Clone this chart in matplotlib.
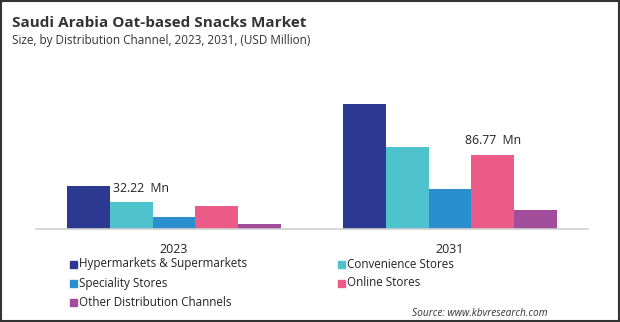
import matplotlib.pyplot as plt
from matplotlib.patches import Rectangle
import numpy as np

plt.rcParams['font.family'] = ['Open Sans', 'DejaVu Sans']

years = ['2023', '2031']
channels = ['Hypermarkets & Supermarkets', 'Convenience Stores', 'Speciality Stores',
            'Online Stores', 'Other Distribution Channels']
hyper = [50.5, 147.5]
convenience = [32.22, 96.8]
speciality = [14.2, 47.2]
online = [27.1, 86.77]
other = [5.9, 22.4]
colors = ['#2B3990', '#4EC3CE', '#2A8FCF', '#EC5A88', '#A24C9C']

series = [hyper, convenience, speciality, online, other]

fig = plt.figure(figsize=(6.2, 3.22), dpi=100)
ax = fig.add_axes([36 / 620, 1 - 229 / 322, 552 / 620, 169.5 / 322])

x = np.arange(len(years))
w = 0.1545
for i, vals in enumerate(series):
    ax.bar(x + (i - 2) * w, vals, width=w, color=colors[i], label=channels[i])

# value labels
ax.text(0 - w - w / 2 + 0.01, convenience[0] + 11.5, '32.22  Mn', ha='left',
        va='baseline', fontsize=8.8, color='#222222')
ax.text(1 + w, online[1] + 14, '86.77  Mn', ha='center', va='baseline',
        fontsize=8.8, color='#222222')

ax.set_xlim(-0.5, 1.5)
ax.set_ylim(0, 200)
ax.set_xticks(x)
ax.set_xticklabels(years, fontsize=9, color='#222222')
ax.tick_params(axis='x', length=0, pad=10)
ax.set_yticks([])
for s in ['top', 'right', 'left']:
    ax.spines[s].set_visible(False)
ax.spines['bottom'].set_color('#d0d0d0')
ax.spines['bottom'].set_linewidth(1.2)

# titles
fig.text(12 / 620, 1 - 27 / 322, 'Saudi Arabia Oat-based Snacks Market', fontsize=11,
         fontweight='bold', color='#333333', va='baseline')
fig.text(12 / 620, 1 - 44 / 322, 'Size, by Distribution Channel, 2023, 2031, (USD Million)',
         fontsize=8.5, color='#333333', va='baseline')

# legend
col_x = [70, 338]
row_y = [264, 283, 302]
for k in range(len(channels)):
    cx = col_x[k % 2]
    cy = row_y[k // 2]
    fig.patches.append(Rectangle((cx / 620, 1 - (cy + 3.5) / 322), 7 / 620, 7 / 322,
                                 transform=fig.transFigure, color=colors[k]))
    fig.text((cx + 9) / 620, 1 - cy / 322, channels[k], fontsize=8.4, color='#222222',
             va='center')

fig.text(548 / 620, 1 - 316 / 322, 'Source: www.kbvresearch.com', fontsize=7.3,
         style='italic', color='#333333', ha='right', va='baseline')

# frame around the picture
fig.patches.append(Rectangle((0.001, 0.002), 0.997, 0.995, transform=fig.transFigure,
                             fill=False, edgecolor='#333333', linewidth=1.5))

fig.savefig('out.png', dpi=100)
